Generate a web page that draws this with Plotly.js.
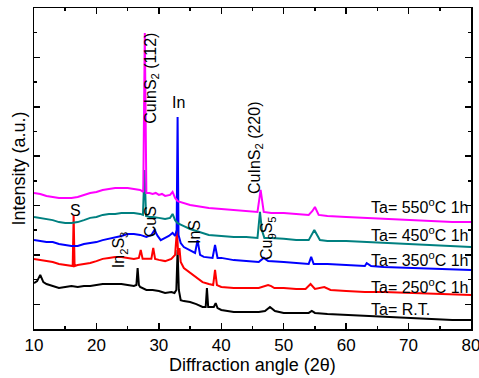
<!DOCTYPE html>
<html>
<head>
<meta charset="utf-8">
<script src="https://cdn.plot.ly/plotly-3.0.1.min.js"></script>
<style>html,body{margin:0;padding:0;background:#fff;}#chart{width:479px;height:378px;}</style>
</head>
<body>
<div id="chart"></div>
<script>
// Ta = R.T. (black)
var xRT = [10,10.5,11,11.5,12,13,14,15,16,17,18,19,20,21,22,23,24,25,26,26.4,26.6,26.8,27,28,29,30,31,32,32.5,32.8,33.0,33.2,33.5,34,35,36,37,37.5,37.7,37.9,38.3,38.8,39.1,39.4,40,42,44,46,47,47.8,48.6,50,52,54,54.5,55,57,60,63,66,70,74,77,80];
var yRT = [186,194,219,190,182,174,166,170,174,170,174,174,178,182,182,182,182,178,174,178,247,178,170,158,158,154,146,150,146,158,320,158,117,113,109,101,89,89,166,89,89,89,105,85,77,69,69,69,73,89,73,65,65,65,73,65,61,57,53,49,45,40,36,36];
// Ta = 250 C 1h (red)
var x250 = [10,11,12,13,14,15,16,16.2,16.35,16.5,17,18,19,20,21,22,23,24,25,26,26.8,27.1,27.4,28,28.8,29.1,29.4,30,31,32,32.6,32.9,33.1,33.3,33.5,34,35,36,37,38,38.7,39.0,39.3,40,42,44,46,47.5,48,48.5,50,52,53.5,54.3,55,56.5,57.5,60,63,66,70,74,77,80];
var y250 = [284,280,275,271,263,259,255,255,462,255,259,263,267,275,284,288,292,292,288,284,288,320,284,284,284,328,284,280,275,284,300,401,300,328,271,247,227,207,190,182,178,239,178,170,166,166,166,178,174,166,166,162,162,182,162,170,158,154,150,150,146,142,138,138];
// Ta = 350 C 1h (blue)
var x350 = [10,11,12,13,14,15,16,17,18,19,20,21,22,23,24,25,26,27,28,28.8,29.3,29.8,30.3,31,31.6,32.2,32.6,32.85,33.0,33.15,33.5,34,35,35.8,36.2,36.6,37.2,38.6,39.0,39.4,40,42,44,46,46.8,47.5,50,52,54,54.4,54.8,57,60,63,63.3,64,66,70,74,77,80];
var y350 = [360,356,352,352,344,340,336,336,344,348,352,360,365,369,377,385,385,381,373,381,401,377,360,369,377,389,377,401,859,381,348,332,320,308,360,300,292,288,340,288,288,279,275,271,288,275,271,267,263,292,263,263,259,255,267,255,251,247,243,239,239];
// Ta = 450 C 1h (teal)
var x450 = [10,11,12,13,14,15,16,17,18,19,20,21,22,23,24,25,26,27,27.45,27.7,27.95,28.5,29,30,31,31.8,32.2,32.6,33,34,35,36,37,38,40,42,44,45.8,46.2,46.5,46.9,48,50,52,54,54.9,55.8,57,60,63,66,70,74,77,80];
var y450 = [454,450,446,441,433,429,429,433,441,450,454,462,466,466,470,470,470,466,462,644,458,454,454,450,446,450,466,441,429,417,405,397,389,381,377,373,373,369,474,401,369,369,365,360,360,401,360,356,356,352,348,344,340,336,332];
// Ta = 550 C 1h (magenta)
var x550 = [10,11,12,13,14,15,16,17,18,19,20,21,22,23,24,25,26,27,27.5,27.75,28.0,28.5,29,29.5,30,30.5,31,31.8,32.2,32.6,33,34,35,36,37,38,40,42,44,45.8,46.3,46.8,48,50,52,54,54.6,55.0,55.6,57,60,63,66,70,74,77,80];
var y550 = [551,547,539,535,531,531,531,535,543,551,555,563,567,571,571,571,567,563,555,1199,551,551,547,551,543,547,539,543,555,531,518,510,502,498,494,490,486,482,478,474,563,474,470,470,466,462,478,494,462,458,454,450,446,441,437,433,433];

var seriesNames = ['Ta= R.T.','Ta= 250°C 1h','Ta= 350°C 1h','Ta= 450°C 1h','Ta= 550°C 1h'];
var seriesColors = ['#000000','#ff0000','#0000ff','#008080','#ff00ff'];
var seriesX = [xRT,x250,x350,x450,x550];
var seriesY = [yRT,y250,y350,y450,y550];

// right-hand labels
var labelTexts = ['Ta= R.T.','Ta= 250<sup>o</sup>C 1h','Ta= 350<sup>o</sup>C 1h','Ta= 450<sup>o</sup>C 1h','Ta= 550<sup>o</sup>C 1h'];
var labelX = [63.6,63.6,63.6,63.6,63.6];
var labelY = [81,174,283,385,498];

// phase labels
var phaseTexts = ['CuInS<sub>2</sub> (112)','In','CuInS<sub>2</sub> (220)','S','In<sub>2</sub>S<sub>3</sub>','CuS','InS','Cu<sub>9</sub>S<sub>5</sub>'];
var phaseX = [28.9,33.2,45.4,16.6,23.8,28.6,35.8,47.5];
var phaseY = [1017,919,733,478,320,433,393,369];
var phaseAngle = [-90,0,-90,0,-90,-90,-90,-90];

var FONT = 'Liberation Sans, Arial, sans-serif';

var traces = seriesX.map(function(xs,i){
  return {x: xs, y: seriesY[i], type:'scatter', mode:'lines', name: seriesNames[i],
    line:{color: seriesColors[i], width:2}, hoverinfo:'skip'};
});

var annotations = [];
labelTexts.forEach(function(t,i){
  annotations.push({x: labelX[i], y: labelY[i], xref:'x', yref:'y', text:t, showarrow:false,
    xanchor:'left', yanchor:'middle', font:{family:FONT, size:16, color:'#000'}});
});
phaseTexts.forEach(function(t,i){
  annotations.push({x: phaseX[i], y: phaseY[i], xref:'x', yref:'y', text:t, showarrow:false,
    textangle: phaseAngle[i], xanchor:'center', yanchor:'middle', font:{family:FONT, size:16, color:'#000'}});
});

var layout = {
  width:479, height:378,
  margin:{l:34, r:8, t:8, b:49},
  paper_bgcolor:'#fff', plot_bgcolor:'#fff',
  showlegend:false,
  font:{family:FONT, size:17, color:'#000'},
  xaxis:{range:[10,80], tick0:10, dtick:10, ticks:'inside', ticklen:6, tickwidth:1.5, tickcolor:'#000',
    minor:{dtick:5, ticks:'inside', ticklen:3, tickwidth:1.5, tickcolor:'#000'},
    showline:true, linecolor:'#000', linewidth:1.5, mirror:'ticks', showgrid:false, zeroline:false,
    ticklabeloverflow:'allow',
    tickfont:{family:FONT, size:17}, title:{text:'Diffraction angle (2θ)', font:{family:FONT, size:18}, standoff:4}},
  yaxis:{range:[0,1300], tick0:100, dtick:200, ticks:'inside', ticklen:6, tickwidth:1.5, tickcolor:'#000',
    minor:{dtick:100, ticks:'inside', ticklen:3, tickwidth:1.5, tickcolor:'#000'},
    showline:true, linecolor:'#000', linewidth:1.5, mirror:'ticks', showgrid:false, zeroline:false,
    showticklabels:false, title:{text:'Intensity (a.u.)', font:{family:FONT, size:18}, standoff:2}},
  annotations: annotations
};

Plotly.newPlot('chart', traces, layout, {staticPlot:true, displayModeBar:false});
</script>
</body>
</html>
